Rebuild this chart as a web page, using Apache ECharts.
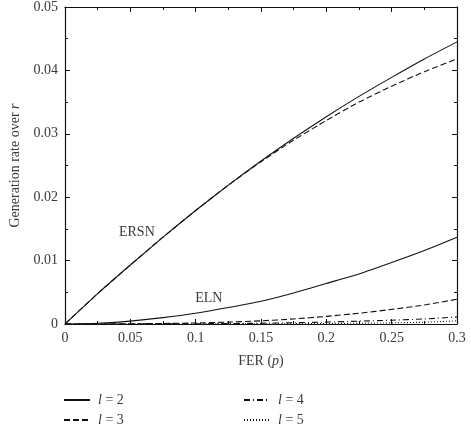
<!DOCTYPE html>
<html>
<head>
<meta charset="utf-8">
<script src="https://cdn.jsdelivr.net/npm/echarts@6/dist/echarts.min.js"></script>
<style>
  html, body { margin: 0; padding: 0; background: #fff; }
  #chart { width: 471px; height: 424px; }
</style>
</head>
<body>
<div id="chart"></div>
<script>
// FER values (x)
const fer = [0, 0.025, 0.05, 0.075, 0.1, 0.125, 0.15, 0.175, 0.2, 0.225, 0.25, 0.275, 0.3];

// ERSN curves
const ersnL2 = [0, 0.0048, 0.0093, 0.0137, 0.0179, 0.0219, 0.0257, 0.0293, 0.0327, 0.0359, 0.0389, 0.0418, 0.0445];
const ersnL3 = [0, 0.0048, 0.0093, 0.0137, 0.0179, 0.0219, 0.0256, 0.0290, 0.0321, 0.0350, 0.0375, 0.0398, 0.0418];

// ELN curves
const elnL2 = [0, 0.00013, 0.00045, 0.0010, 0.0017, 0.0026, 0.0036, 0.0049, 0.0064, 0.0079, 0.0097, 0.0116, 0.0137];
const elnL3 = [0, 0.00001, 0.00003, 0.00008, 0.00016, 0.0003, 0.0005, 0.0008, 0.0012, 0.0017, 0.0023, 0.0030, 0.0039];
const elnL4 = [0, 0, 0.00001, 0.00002, 0.00004, 0.00007, 0.00012, 0.0002, 0.0003, 0.00045, 0.0006, 0.0008, 0.0011];
const elnL5 = [0, 0, 0, 0, 0.00001, 0.00002, 0.00003, 0.00005, 0.00008, 0.00012, 0.00018, 0.00028, 0.0005];

const xTicks = [0, 0.05, 0.1, 0.15, 0.2, 0.25, 0.3];
const yTicks = [0, 0.01, 0.02, 0.03, 0.04, 0.05];

const serif = '"Liberation Serif", "DejaVu Serif", serif';
const textColor = '#3a3a3a';
const ink = '#111';
const fs = 14;

const pairs = (ys) => fer.map((x, i) => [x, ys[i]]);
const italic = { fontStyle: 'italic', fontFamily: serif, fontSize: fs, color: textColor };

const chart = echarts.init(document.getElementById('chart'));

function axis(extra) {
  return Object.assign({
    type: 'value',
    axisLine: { show: true, onZero: false, lineStyle: { color: ink, width: 1.2 } },
    axisTick: { show: true, inside: true, length: 5, lineStyle: { color: ink, width: 1 } },
    minorTick: { show: true, splitNumber: 2, length: 3, lineStyle: { color: ink, width: 1 } },
    splitLine: { show: false },
  }, extra);
}

function line(name, ys, type, extra) {
  return Object.assign({
    name: name,
    type: 'line',
    data: pairs(ys),
    showSymbol: false,
    symbol: 'none',
    smooth: 0.2,
    lineStyle: { color: ink, width: 1.1, type: type },
    itemStyle: { color: ink },
    z: 3,
  }, extra || {});
}

function legend(left, names) {
  return {
    orient: 'vertical',
    left: left,
    top: 388,
    height: 60,
    data: names,
    itemWidth: 26,
    itemHeight: 14,
    itemGap: 6,
    itemStyle: { opacity: 0 },
    formatter: (n) => '{i|l}' + n.slice(1),
    textStyle: {
      fontFamily: serif, fontSize: fs, color: textColor, padding: [0, 0, 0, 3],
      rich: { i: italic },
    },
  };
}

function label(text, coord) {
  return {
    symbol: 'circle', symbolSize: 0, silent: true,
    label: { show: true, position: 'inside', fontFamily: serif, fontSize: fs, color: textColor, formatter: text },
    data: [{ coord: coord }],
  };
}

const option = {
  animation: false,
  backgroundColor: '#fff',
  grid: { left: 61, right: 14, top: 6, bottom: 100 },
  legend: [
    legend(58, ['l = 2', 'l = 3']),
    legend(238, ['l = 4', 'l = 5']),
  ],
  xAxis: [
    axis({
      min: 0, max: 0.3, interval: 0.05,
      name: 'FER ({i|p})',
      nameLocation: 'middle',
      nameGap: 30,
      nameTextStyle: { fontFamily: serif, fontSize: fs, color: textColor, rich: { i: italic } },
      axisLabel: {
        margin: 7, fontFamily: serif, fontSize: fs, color: textColor,
        formatter: (v) => (xTicks.includes(+v.toFixed(3)) ? String(+v.toFixed(3)) : ''),
      },
    }),
    axis({ position: 'top', min: 0, max: 0.3, interval: 0.05, axisLabel: { show: false } }),
  ],
  yAxis: [
    axis({
      min: 0, max: 0.05, interval: 0.01,
      name: 'Generation rate over {i|r}',
      nameLocation: 'middle',
      nameGap: 43,
      nameTextStyle: { fontFamily: serif, fontSize: fs, color: textColor, rich: { i: italic } },
      axisLabel: {
        margin: 7, fontFamily: serif, fontSize: fs, color: textColor,
        formatter: (v) => (yTicks.includes(+v.toFixed(3)) ? String(+v.toFixed(3)) : ''),
      },
    }),
    axis({ position: 'right', min: 0, max: 0.05, interval: 0.01, axisLabel: { show: false } }),
  ],
  series: [
    line('l = 2', ersnL2, 'solid', { markPoint: label('ERSN', [0.055, 0.0145]) }),
    line('l = 3', ersnL3, [6, 3]),
    line('l = 2', elnL2, 'solid', { markPoint: label('ELN', [0.11, 0.0041]) }),
    line('l = 3', elnL3, [6, 3]),
    line('l = 4', elnL4, [6, 3, 1, 3]),
    line('l = 5', elnL5, [1, 2]),
  ],
};

chart.setOption(option);
</script>
</body>
</html>
